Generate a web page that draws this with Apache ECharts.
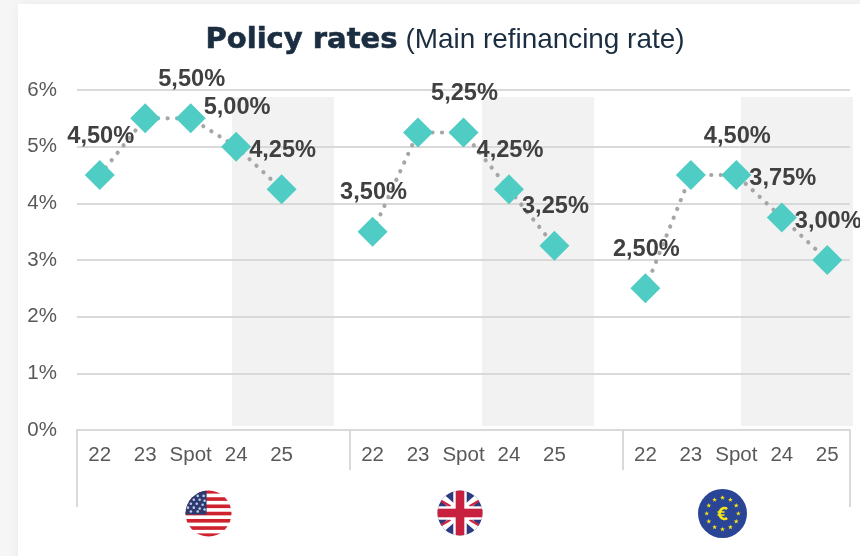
<!DOCTYPE html>
<html><head><meta charset="utf-8">
<style>html,body{margin:0;padding:0;background:#fff}#c{width:860px;height:556px}</style>
<script src="https://cdn.jsdelivr.net/npm/echarts@6/dist/echarts.min.js"></script>
</head><body><div id="c"></div>
<script>
const categories = ['22','23','Spot','24','25'];
const usRates = [4.5,5.5,5.5,5.0,4.25];
const ukRates = [3.5,5.25,5.25,4.25,3.25];
const euRates = [2.5,4.5,4.5,3.75,3.0];
const yTicks = [0,1,2,3,4,5,6];
const hiddenLabelCategory = '23';

const xCats = [], values = [];
[usRates, ukRates, euRates].forEach((r, i) => {
  if (i) { xCats.push({value: ' ' .repeat(i)}); values.push(null); }
  r.forEach((v, j) => { xCats.push(categories[j]); values.push(v); });
});

const usFlag = `<svg xmlns="http://www.w3.org/2000/svg" width="48" height="48" viewBox="0 0 48 48"><defs><clipPath id="a"><circle cx="24" cy="24" r="23.5"/></clipPath></defs><g clip-path="url(#a)"><rect width="48" height="48" fill="#fff"/><g fill="#d0222e"><rect y="0" width="48" height="3.7"/><rect y="7.4" width="48" height="3.7"/><rect y="14.8" width="48" height="3.7"/><rect y="22.2" width="48" height="3.7"/><rect y="29.6" width="48" height="3.7"/><rect y="37" width="48" height="3.7"/><rect y="44.3" width="48" height="3.7"/></g><rect width="22" height="25" fill="#2c3a72"/><g fill="#c5cbdd"><circle cx="13" cy="6" r="1.3"/><circle cx="19" cy="6" r="1.3"/><circle cx="9" cy="10" r="1.3"/><circle cx="15" cy="10" r="1.3"/><circle cx="20" cy="11" r="1.3"/><circle cx="6" cy="14" r="1.3"/><circle cx="12" cy="14" r="1.3"/><circle cx="18" cy="15" r="1.3"/><circle cx="3" cy="18" r="1.3"/><circle cx="9" cy="18" r="1.3"/><circle cx="15" cy="19" r="1.3"/><circle cx="20" cy="20" r="1.3"/><circle cx="6" cy="22" r="1.3"/><circle cx="13" cy="22" r="1.3"/></g></g></svg>`;
const ukFlag = `<svg xmlns="http://www.w3.org/2000/svg" width="48" height="48" viewBox="0 0 48 48"><defs><clipPath id="a"><circle cx="24" cy="24" r="23.5"/></clipPath></defs><g clip-path="url(#a)"><rect width="48" height="48" fill="#2d3a80"/><path d="M0 3L48 45M48 3L0 45" stroke="#fff" stroke-width="7"/><path d="M2 10L14 17M46 10L34 17M2 38L14 31M46 38L34 31" stroke="#d0223f" stroke-width="2.4"/><rect x="17" width="14" height="48" fill="#fff"/><rect y="17" width="48" height="14" fill="#fff"/><rect x="19.5" width="9" height="48" fill="#c8203f"/><rect y="19.5" width="48" height="9" fill="#c8203f"/></g></svg>`;
let stars = '';
for (let i = 0; i < 12; i++) {
  const a = i * Math.PI / 6, x = 24 + 15.5 * Math.sin(a), y = 24 - 15.5 * Math.cos(a);
  let p = [];
  for (let k = 0; k < 10; k++) { const r = k % 2 ? 1 : 2.5, b = k * Math.PI / 5; p.push((x + r * Math.sin(b)).toFixed(2) + ',' + (y - r * Math.cos(b)).toFixed(2)); }
  stars += `<polygon points="${p.join(' ')}" fill="#f5e616"/>`;
}
const euFlag = `<svg xmlns="http://www.w3.org/2000/svg" width="48" height="48" viewBox="0 0 48 48"><circle cx="24" cy="24" r="24" fill="#2a4595"/>${stars}<path d="M28.5 19.6a4.6 5.4 0 1 0 0 8.8" fill="none" stroke="#f5e616" stroke-width="2.6"/><path d="M19 22.6h7M19 25.4h7" stroke="#f5e616" stroke-width="1.4"/></svg>`;
const uri = s => 'data:image/svg+xml;charset=utf-8,' + encodeURIComponent(s);

const sep = '#d9d9d9';
const vLine = (x, y2) => ({type:'line', z:1, silent:true, shape:{x1:x,y1:430,x2:x,y2}, style:{stroke:sep,lineWidth:2}});
const band = (x, w) => ({type:'rect', z:-1, silent:true, shape:{x,y:97,width:w,height:329}, style:{fill:'#f2f2f2'}});
const flag = (u, x, y, s) => ({type:'image', silent:true, style:{image:uri(u), x, y, width:s, height:s}});

const chart = echarts.init(document.getElementById('c'), null, {renderer:'canvas'});
chart.setOption({
  animation:false,
  backgroundColor:'#f6f6f6',
  title:{
    left:440, top:21, textAlign:'center',
    text:'{b|Policy rates} {r|(Main refinancing rate)}',
    textStyle:{rich:{
      b:{fontFamily:'DejaVu Sans',fontWeight:'bold',fontSize:29,color:'#1b2d40',textBorderColor:'#1b2d40',textBorderWidth:0.6},
      r:{fontFamily:'Liberation Sans',fontWeight:'normal',fontSize:27.9,color:'#1b2d40',padding:[0,0,0,3]}
    }}
  },
  grid:{left:77, right:10, top:90, bottom:126},
  xAxis:{
    type:'category', data:xCats, boundaryGap:true,
    axisLine:{lineStyle:{color:sep,width:2}},
    axisTick:{show:false},
    axisLabel:{color:'#595959',fontFamily:'Liberation Sans',fontSize:20.5,margin:15,interval:0}
  },
  yAxis:{
    type:'value', min:yTicks[0], max:yTicks[yTicks.length-1], interval:1,
    axisLine:{show:false}, axisTick:{show:false},
    axisLabel:{color:'#595959',fontFamily:'Liberation Sans',fontSize:20.5,margin:20,padding:[2,0,0,0],formatter:'{value}%'},
    splitLine:{lineStyle:{color:'#d9d9d9',width:2}}
  },
  graphic:[
    {type:'rect', z:-2, silent:true, shape:{x:18,y:4,width:860,height:570}, style:{fill:'#fff',shadowBlur:12,shadowColor:'rgba(0,0,0,0.05)'}},
    band(232,102), band(482,112), band(741,112),
    vLine(77,507), vLine(350,470), vLine(623,470), vLine(850,507),
    flag(usFlag,185,490,47), flag(ukFlag,437,490,46), flag(euFlag,698,489,49)
  ],
  series:[{
    type:'line', data:values, connectNulls:false, z:3,
    symbol:'diamond', symbolSize:30, showAllSymbol:true,
    itemStyle:{color:'#4fcdc4'},
    lineStyle:{color:'#a6a6a6',width:4.2,type:[0.1,9.4],cap:'round'},
    label:{
      show:true, position:'inside', offset:[1,-39],
      color:'#404040', fontFamily:'Liberation Sans', fontWeight:'bold', fontSize:23.6,
      formatter:p => xCats[p.dataIndex] === hiddenLabelCategory ? '' : p.value.toFixed(2).replace('.',',') + '%'
    }
  }]
});
</script></body></html>
